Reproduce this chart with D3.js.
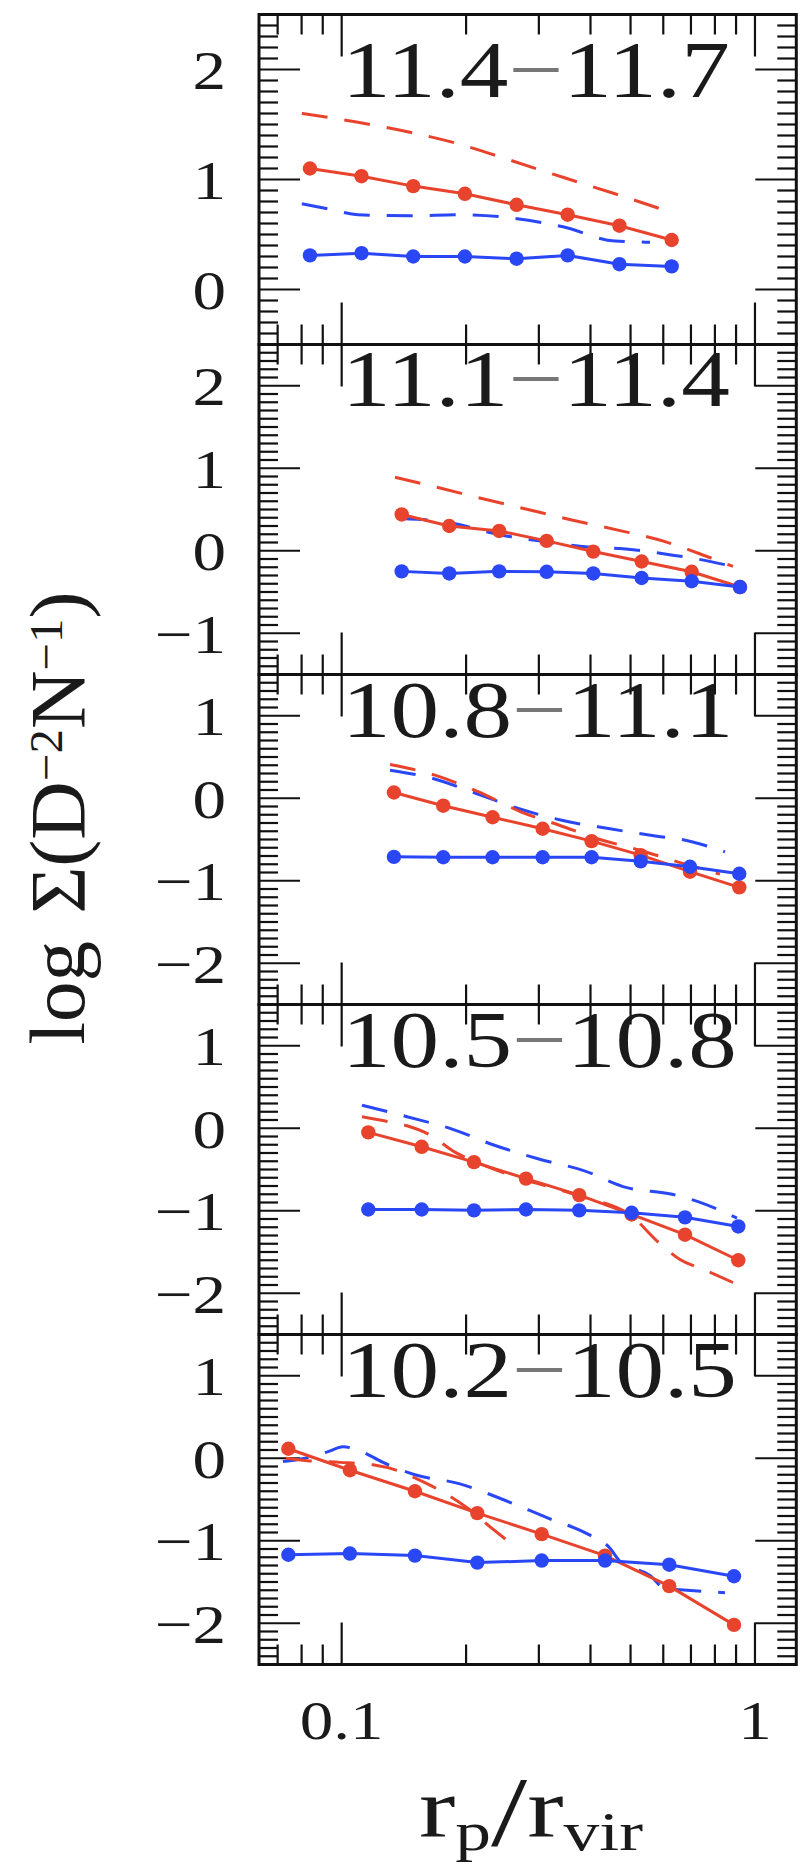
<!DOCTYPE html>
<html>
<head>
<meta charset="utf-8">
<script src="https://cdnjs.cloudflare.com/ajax/libs/d3/7.8.5/d3.min.js"></script>
<style>
  body { margin: 0; background: #fff; }
  text { font-family: "Liberation Serif", "DejaVu Serif", serif; fill: #1a1a1a; }
</style>
</head>
<body>
<svg id="fig" width="802" height="1870"></svg>
<script>
// ---- data -------------------------------------------------------------
// one panel per stellar-mass bin, top to bottom
const massLow  = ["11.4", "11.1", "10.8", "10.5", "10.2"];
const massHigh = ["11.7", "11.4", "11.1", "10.8", "10.5"];
const yDomains = [[-0.5, 2.5], [-1.5, 2.5], [-2.5, 1.5], [-2.5, 1.5], [-2.5, 1.5]];
const yTickLabels = [[0, 1, 2], [-1, 0, 1, 2], [-2, -1, 0, 1], [-2, -1, 0, 1], [-2, -1, 0, 1]];
const xTickLabels = [0.1, 1];
const xMinorTicks = [0.07, 0.08, 0.09, 0.2, 0.3, 0.4, 0.5, 0.6, 0.7, 0.8, 0.9];

// measured profiles: projected radius bins (r_p / r_vir)
const rBins = [
  [0.0838, 0.1117, 0.1490, 0.1987, 0.2650, 0.3522, 0.4700, 0.6288],
  [0.1397, 0.1821, 0.2405, 0.3133, 0.4062, 0.5319, 0.7028, 0.9199],
  [0.1338, 0.1761, 0.2318, 0.3064, 0.4025, 0.5290, 0.6963, 0.9162],
  [0.1160, 0.1562, 0.2090, 0.2792, 0.3757, 0.5030, 0.6771, 0.9112],
  [0.0743, 0.1047, 0.1504, 0.2129, 0.3048, 0.4337, 0.6204, 0.8897]
];
// log surface density, red population
const redSigma = [
  [1.10, 1.03, 0.94, 0.87, 0.77, 0.68, 0.58, 0.45],
  [0.44, 0.30, 0.24, 0.12, -0.01, -0.13, -0.255, -0.44],
  [0.07, -0.09, -0.23, -0.37, -0.52, -0.69, -0.89, -1.08],
  [-0.05, -0.225, -0.41, -0.61, -0.81, -1.045, -1.29, -1.60],
  [0.115, -0.145, -0.40, -0.665, -0.92, -1.18, -1.55, -2.02]
];
// log surface density, blue population
const blueSigma = [
  [0.31, 0.33, 0.30, 0.30, 0.28, 0.31, 0.23, 0.21],
  [-0.25, -0.275, -0.25, -0.255, -0.275, -0.33, -0.37, -0.44],
  [-0.71, -0.715, -0.715, -0.715, -0.715, -0.765, -0.83, -0.915],
  [-0.985, -0.985, -0.995, -0.985, -0.995, -1.025, -1.08, -1.19],
  [-1.17, -1.155, -1.18, -1.265, -1.24, -1.24, -1.29, -1.43]
];

// model predictions (dashed curves)
const redModelR = [
  [0.0801, 0.1095, 0.1463, 0.1933, 0.2583, 0.3431, 0.4584, 0.6056],
  [0.1346, 0.1729, 0.2197, 0.2823, 0.3628, 0.4662, 0.6058, 0.7653, 0.8847],
  [0.1309, 0.1681, 0.2137, 0.2731, 0.3375, 0.4217, 0.5270, 0.6585, 0.8228],
  [0.1120, 0.1295, 0.1439, 0.1635, 0.1879, 0.2090, 0.2597, 0.3751, 0.5040, 0.5890, 0.6585, 0.7568, 0.8847],
  [0.0733, 0.0824, 0.0991, 0.1190, 0.1384, 0.1521, 0.1729, 0.2010, 0.2323, 0.2656]
];
const redModel = [
  [1.60, 1.52, 1.43, 1.32, 1.17, 1.02, 0.87, 0.72],
  [0.89, 0.76, 0.63, 0.50, 0.37, 0.25, 0.11, -0.07, -0.19],
  [0.41, 0.28, 0.08, -0.17, -0.33, -0.50, -0.63, -0.78, -0.92],
  [0.14, 0.08, 0.03, -0.08, -0.29, -0.40, -0.58, -0.82, -1.07, -1.40, -1.59, -1.72, -1.87],
  [0.0, -0.03, -0.05, -0.08, -0.16, -0.25, -0.39, -0.60, -0.86, -1.09]
];
const blueModelR = [
  [0.0801, 0.0937, 0.1095, 0.1463, 0.1933, 0.2583, 0.3431, 0.4584, 0.5572],
  [0.1397, 0.1828, 0.2375, 0.3103, 0.3943, 0.4793, 0.5509, 0.6158, 0.7160, 0.8847],
  [0.1309, 0.1663, 0.2125, 0.2700, 0.3431, 0.4459, 0.5793, 0.6660, 0.8461],
  [0.1120, 0.1439, 0.1849, 0.2323, 0.2985, 0.3835, 0.4900, 0.6297, 0.7281, 0.9048],
  [0.0721, 0.0815, 0.0927, 0.1007, 0.1107, 0.1259, 0.1504, 0.1933, 0.2456, 0.3138, 0.3943, 0.4459, 0.4715, 0.5572, 0.6057, 0.6847, 0.8461]
];
const blueModel = [
  [0.78, 0.73, 0.68, 0.67, 0.68, 0.65, 0.57, 0.44, 0.43],
  [0.39, 0.34, 0.20, 0.11, 0.045, 0.025, -0.01, -0.045, -0.095, -0.19],
  [0.34, 0.24, 0.055, -0.13, -0.27, -0.37, -0.46, -0.50, -0.65],
  [0.28, 0.14, -0.01, -0.20, -0.37, -0.51, -0.72, -0.80, -0.89, -1.09],
  [-0.04, 0.0, 0.08, 0.14, 0.09, -0.05, -0.20, -0.31, -0.50, -0.72, -0.92, -1.09, -1.25, -1.42, -1.58, -1.60, -1.63]
];

// ---- layout -----------------------------------------------------------
const RED = "#e8432d", BLUE = "#2a47f6";
const TOP = 14.5, PANEL_H = 330;
const labelDrop = [82, 61, 62, 62, 62];
const SX = 1.22;                      // horizontal stretch of the serif face

const svg = d3.select("#fig");
const x = d3.scaleLog().domain([Math.pow(10, -1.2), Math.pow(10, 0.1)]).range([259, 796.3]);
const [X0, X1] = x.range();

const fmt = v => (v < 0 ? "\u2212" + Math.abs(v) : String(v));

function stretched(sel, px, py, size, anchor, sx) {
  return sel.append("text")
    .attr("transform", `translate(${px},${py}) scale(${sx},1)`)
    .attr("font-size", size)
    .attr("text-anchor", anchor);
}

for (let i = 0; i < massLow.length; i++) {
  const top = TOP + i * PANEL_H, bottom = top + PANEL_H;
  const y = d3.scaleLinear().domain(yDomains[i]).range([bottom, top]);
  const g = svg.append("g");
  const tickG = g.append("g").attr("stroke", "#111").attr("stroke-width", 2.2);

  // y ticks: major every 1, minor every 0.1, on both sides
  const [lo, hi] = yDomains[i];
  d3.range(Math.round(lo * 10) + 1, Math.round(hi * 10)).forEach(k => {
    const major = k % 10 === 0, len = major ? 41 : 19, yy = y(k / 10);
    tickG.append("line").attr("x1", X0).attr("x2", X0 + len).attr("y1", yy).attr("y2", yy);
    tickG.append("line").attr("x1", X1 - len).attr("x2", X1).attr("y1", yy).attr("y2", yy);
  });
  // x ticks on top and bottom edges
  xTickLabels.concat(xMinorTicks).forEach(v => {
    const major = xTickLabels.includes(v), len = major ? 42 : 20, xx = x(v);
    tickG.append("line").attr("x1", xx).attr("x2", xx).attr("y1", top).attr("y2", top + len);
    tickG.append("line").attr("x1", xx).attr("x2", xx).attr("y1", bottom - len).attr("y2", bottom);
  });

  // model curves
  const dashLine = d3.line().x(d => x(d[0])).y(d => y(d[1])).curve(d3.curveMonotoneX);
  g.append("path").datum(blueModelR[i].map((r, j) => [r, blueModel[i][j]]))
    .attr("d", dashLine).attr("fill", "none").attr("stroke", BLUE)
    .attr("stroke-width", 3).attr("stroke-dasharray", "26,17");
  g.append("path").datum(redModelR[i].map((r, j) => [r, redModel[i][j]]))
    .attr("d", dashLine).attr("fill", "none").attr("stroke", RED)
    .attr("stroke-width", 3).attr("stroke-dasharray", "26,17");

  // measured profiles
  const solid = d3.line().x(d => x(d[0])).y(d => y(d[1]));
  [[redSigma, RED], [blueSigma, BLUE]].forEach(([vals, col]) => {
    const pts = rBins[i].map((r, j) => [r, vals[i][j]]);
    g.append("path").datum(pts).attr("d", solid).attr("fill", "none")
      .attr("stroke", col).attr("stroke-width", 3);
    g.selectAll(null).data(pts).enter().append("circle")
      .attr("cx", d => x(d[0])).attr("cy", d => y(d[1])).attr("r", 7.2).attr("fill", col);
  });

  // frame
  g.append("rect").attr("x", X0).attr("y", top).attr("width", X1 - X0).attr("height", PANEL_H)
    .attr("fill", "none").attr("stroke", "#111").attr("stroke-width", 3);

  // mass-bin label
  const lab = stretched(g, 342, top + labelDrop[i], 81, "start", 1.2);
  lab.append("tspan").text(massLow[i]);
  lab.append("tspan").attr("fill", "#777").text("\u2212");
  lab.append("tspan").text(massHigh[i]);

  // y tick labels
  yTickLabels[i].forEach(v => {
    stretched(g, 226, y(v) + 19.5, 55, "end", SX).text(fmt(v));
  });
}

// x tick labels
xTickLabels.forEach(v => {
  stretched(svg, x(v), 1739, 55, "middle", SX).text(String(v));
});

// axis titles
const xl = stretched(svg, 531, 1836, 84, "middle", 1.3);
xl.append("tspan").text("r");
xl.append("tspan").attr("font-size", 55).attr("dy", 14).text("p");
xl.append("tspan").attr("font-size", 100).attr("dy", -5).text("/");
xl.append("tspan").attr("dy", -9).text("r");
xl.append("tspan").attr("font-size", 55).attr("dy", 14).text("vir");

const yl = svg.append("text")
  .attr("transform", "translate(84,818) rotate(-90) scale(1.04,1)")
  .attr("font-size", 78).attr("text-anchor", "middle");
yl.append("tspan").text("log");
yl.append("tspan").attr("dx", 26).text("\u03A3(D");
yl.append("tspan").attr("font-size", 47).attr("dy", -22).text("\u22122");
yl.append("tspan").attr("dy", 22).text("N");
yl.append("tspan").attr("font-size", 47).attr("dy", -22).text("\u22121");
yl.append("tspan").attr("dy", 22).text(")");
</script>
</body>
</html>
